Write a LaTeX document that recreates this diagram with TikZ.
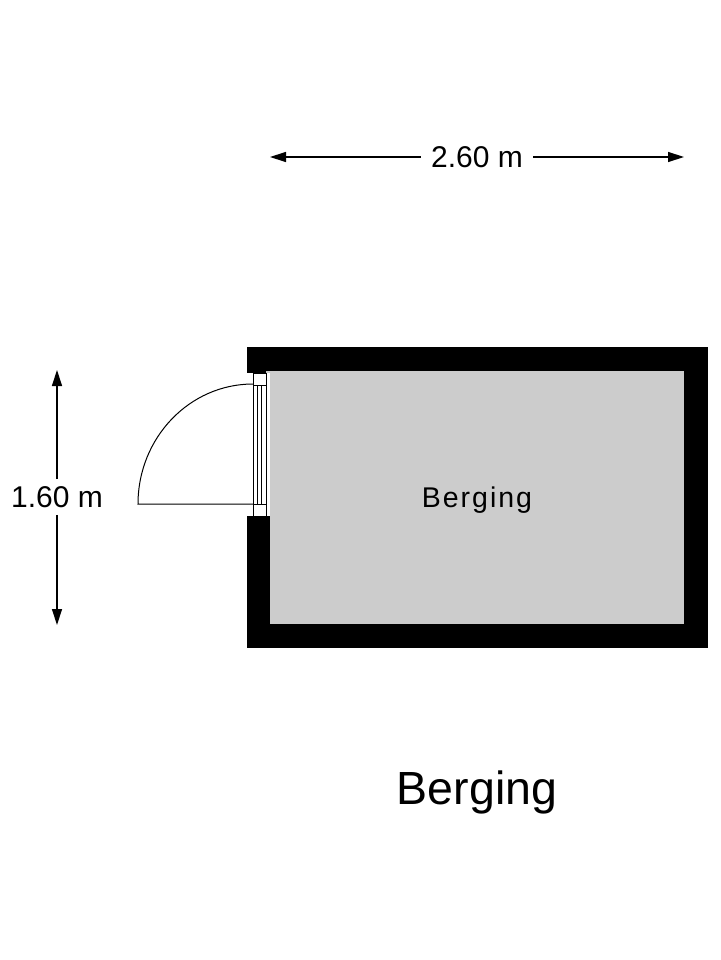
\documentclass[tikz,border=0pt]{standalone}
\usepackage{fontspec}
\setmainfont{Liberation Sans}
\newfontfamily\spacedfont[LetterSpace=7]{Liberation Sans}
\usetikzlibrary{arrows.meta}
\definecolor{floorgray}{gray}{0.8}
\tikzset{
  dimline/.style={line width=1.3pt,-{Triangle[length=16pt,width=10pt]}},
  dimlabel/.style={inner xsep=10pt,inner ysep=7pt,font=\fontsize{30}{36}\selectfont},
  roomlabel/.style={inner sep=0pt,font=\spacedfont\fontsize{28.5}{34}\selectfont},
  titlelabel/.style={inner sep=0pt,font=\fontsize{46.5}{55}\selectfont},
  doorline/.style={line width=1pt}
}
\newcommand{\frbox}[4]{
\fill[white](#1,#2)--(#3,#2)--(#3,#4)--(#1,#4)--cycle;
\draw[doorline](#1,#2)--(#3,#2)--(#3,#4)--(#1,#4)--cycle;
}
\begin{document}
\begin{tikzpicture}[x=1pt,y=-1pt]
\useasboundingbox (0,0) rectangle (720,960);

% walls and floor
\fill[black](247,347)--(708,347)--(708,648)--(247,648)--cycle;
\fill[floorgray](270,371)--(684,371)--(684,624)--(270,624)--cycle;
\fill[white](247,373)--(270,373)--(270,516)--(247,516)--cycle;
\fill[floorgray](266,371)--(270,371)--(270,373)--(266,373)--cycle;

% door frame
\frbox{253}{373}{266}{385}
\frbox{253}{504}{266}{516}
\draw[doorline](253,385)--(253,504);
\draw[doorline](257,385)--(257,504);
\draw[doorline](261,385)--(261,504);
\draw[doorline](266,385)--(266,504);

% door leaf and swing
\coordinate (hinge) at (253,504);
\coordinate (leaf) at (138,504);
\draw[doorline](hinge)--(leaf) arc[start angle=180,end angle=270,x radius=115,y radius=120];

% dimensions
\coordinate (wleft) at (270,157);
\coordinate (wright) at (684,157);
\node[dimlabel] (wlab) at (477,157) {2.60 m};
\draw[dimline] (wlab) -- (wleft);
\draw[dimline] (wlab) -- (wright);

\coordinate (htop) at (57,370);
\coordinate (hbot) at (57,625);
\node[dimlabel] (hlab) at (57,497) {1.60 m};
\draw[dimline] (hlab) -- (htop);
\draw[dimline] (hlab) -- (hbot);

% labels
\node[roomlabel,anchor=base] (room) at (477,507) {Berging};
\node[titlelabel,anchor=base] (title) at (477,804) {Berging};

\end{tikzpicture}
\end{document}
